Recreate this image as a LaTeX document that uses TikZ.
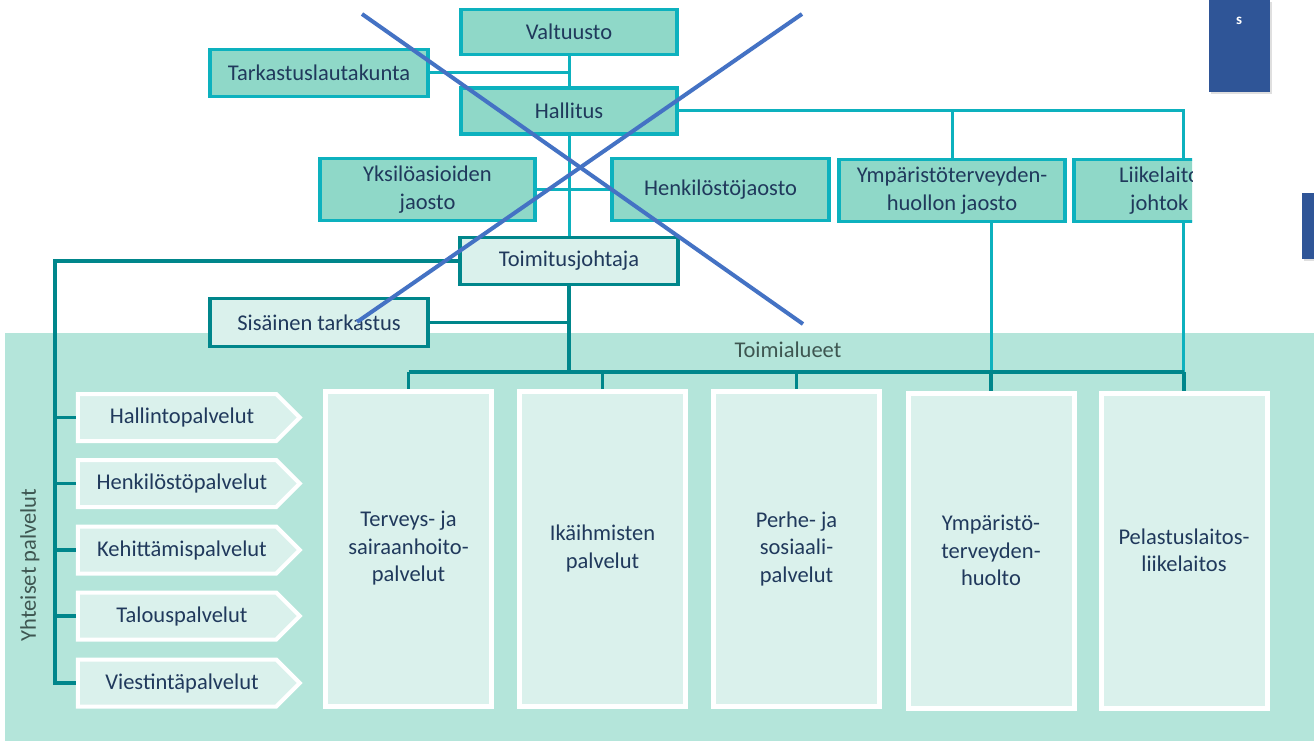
\documentclass[tikz,border=0pt]{standalone}
\usepackage{fontspec}
\setmainfont{Carlito}
\usepackage{xcolor}
\usepackage{tikz}
\usetikzlibrary{shapes.symbols,shadows}

\definecolor{boxfill}{HTML}{8FD8C8}
\definecolor{tealline}{HTML}{0DB1BE}
\definecolor{darkteal}{HTML}{00868B}
\definecolor{areabg}{HTML}{B4E5DA}
\definecolor{palefill}{HTML}{DAF1EC}
\definecolor{navytext}{HTML}{20395C}
\definecolor{graytext}{HTML}{3E5651}
\definecolor{crossblue}{HTML}{4472C4}
\definecolor{sideblue}{HTML}{2F5597}

\begin{document}
\begin{tikzpicture}[x=1pt, y=-1pt,
    every node/.style={font=\fontsize{22.5}{27.5}\selectfont, text=navytext},
    topbox/.style={draw=tealline, line width=3.5pt, fill=boxfill, inner sep=0pt, align=center},
    ceobox/.style={draw=darkteal, line width=3.5pt, fill=palefill, inner sep=0pt, align=center},
    areabox/.style={draw=white, line width=5pt, fill=palefill, inner sep=0pt, align=center,
        minimum width=166pt, minimum height=315pt},
    svcarrow/.style={signal, signal to=east, signal pointer angle=90, draw=white, line width=4pt,
        fill=palefill, inner sep=0pt, minimum width=222pt, minimum height=47pt},
    labeltxt/.style={text=graytext},
    sidebox/.style={fill=sideblue, inner sep=0pt, anchor=north west,
        drop shadow={shadow xshift=1.5pt, shadow yshift=-2pt, opacity=0.25}},
    lnlight/.style={draw=tealline, line width=3pt},
    lndark/.style={draw=darkteal, line width=3.5pt},
    crossline/.style={draw=crossblue, line width=4pt}]

    \useasboundingbox (0,0) rectangle (1314,741);
    \fill[white] (0,0) rectangle (1314,741);
    \fill[areabg] (5,333) rectangle (1314,741);

    \node[sidebox, minimum width=61pt, minimum height=92pt] (sb1) at (1209,0) {};
    \node[text=white, font=\fontsize{15}{15}\selectfont\bfseries] (sbtxt) at (1239,21) {s};
    \node[sidebox, minimum width=14pt, minimum height=66pt] (sb2) at (1302,193) {};

    \node[topbox, minimum width=216pt, minimum height=45pt] (valt) at (569,32) {Valtuusto};
    \node[topbox, minimum width=218pt, minimum height=47pt] (tark) at (319,73) {Tarkastuslautakunta};
    \node[topbox, minimum width=216pt, minimum height=46pt] (hall) at (569,111) {Hallitus};
    \node[topbox, minimum width=215pt, minimum height=62pt] (yks) at (427.5,189.5) {Yksilöasioiden\\jaosto};
    \node[topbox, minimum width=217pt, minimum height=62pt] (henk) at (720.5,189.5) {Henkilöstöjaosto};
    \node[topbox, minimum width=226pt, minimum height=62pt] (ymp) at (952,190.5) {Ympäristöterveyden-\\huollon jaosto};
    \begin{scope}
        \clip (1060,150) rectangle (1192,232);
        \node[topbox, minimum width=218pt, minimum height=62pt] (liik) at (1183,190.5) {};
        \node[inner sep=0pt, anchor=west, align=left] (liiktxt) at (1119,190.5) {Liikelaito\\\hspace*{11pt}johtok};
    \end{scope}

    \node[ceobox, minimum width=218pt, minimum height=47pt] (toim) at (569,261) {Toimitusjohtaja};
    \node[ceobox, minimum width=218pt, minimum height=48pt] (sis) at (319,322.5) {Sisäinen tarkastus};

    \node[labeltxt] (toimal) at (788,350) {Toimialueet};
    \node[labeltxt, rotate=90] (yht) at (30,565) {Yhteiset palvelut};

    \node[areabox] (ts) at (408.5,548.5) {Terveys- ja\\sairaanhoito-\\palvelut};
    \node[areabox] (ik) at (602.5,548.5) {Ikäihmisten\\palvelut};
    \node[areabox] (ps) at (796.5,548.5) {Perhe- ja\\sosiaali-\\palvelut};
    \node[areabox] (yt) at (991,550.5) {Ympäristö-\\terveyden-\\huolto};
    \node[areabox] (pe) at (1184,550.5) {Pelastuslaitos-\\liikelaitos};

    \node[svcarrow] (hp) at (177,417.5) {\hspace*{10pt}Hallintopalvelut};
    \node[svcarrow] (hk) at (177,483.5) {\hspace*{10pt}Henkilöstöpalvelut};
    \node[svcarrow] (kp) at (177,550) {\hspace*{10pt}Kehittämispalvelut};
    \node[svcarrow] (tp) at (177,616) {\hspace*{10pt}Talouspalvelut};
    \node[svcarrow] (vp) at (177,683) {\hspace*{10pt}Viestintäpalvelut};

    \coordinate (bar) at (569,372);
    \coordinate (yp) at (55,0);

    \draw[lnlight] (valt) -- (hall);
    \draw[lnlight] (tark) -- (tark -| hall);
    \draw[lnlight] (hall) -- (toim);
    \draw[lnlight] (yks) -- (henk);
    \draw[lnlight] (hall.east) -| (liik.north);
    \draw[lnlight] (hall.east -| ymp.north) -- (ymp.north);
    \draw[lnlight] (ymp.south -| yt.north) -- (yt.north |- bar);
    \draw[lnlight] (liik.south) -- (liik.south |- bar);

    \draw[lndark] (toim) -- (bar);
    \draw[lndark] (sis) -- (sis -| toim);
    \draw[lndark] (ts.north |- bar) -- (pe.north |- bar);
    \foreach \n in {ts,ik,ps,yt,pe}
        \draw[lndark] (\n.north |- bar) -- (\n.north);
    \draw[lndark] (toim.west) -| (yp |- vp.west) -- (vp.west);
    \foreach \n in {hp,hk,kp,tp}
        \draw[lndark] (yp |- \n.west) -- (\n.west);

    \coordinate (xa) at (362,14);
    \coordinate (xb) at (803,324);
    \coordinate (xc) at (802,14);
    \coordinate (xd) at (357,322);
    \draw[crossline] (xa) -- (xb);
    \draw[crossline] (xc) -- (xd);
\end{tikzpicture}
\end{document}
